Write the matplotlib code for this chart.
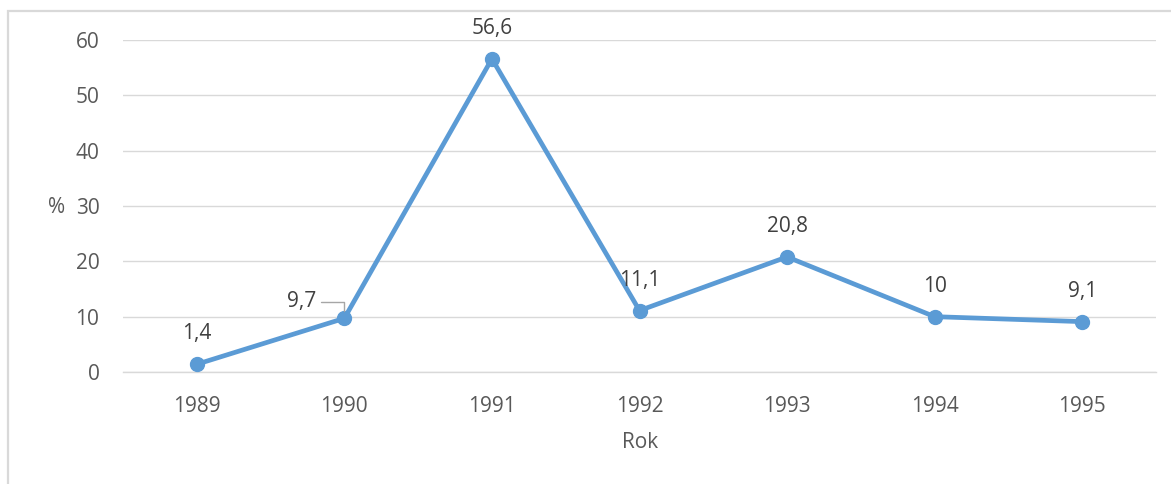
import matplotlib
matplotlib.use("Agg")
import matplotlib.pyplot as plt
from matplotlib.patches import Rectangle

# data
years = ["1989", "1990", "1991", "1992", "1993", "1994", "1995"]
values = [1.4, 9.7, 56.6, 11.1, 20.8, 10, 9.1]
labels = ["1,4", "9,7", "56,6", "11,1", "20,8", "10", "9,1"]
yticks = [0, 10, 20, 30, 40, 50, 60]

W, H = 1171, 484
grey = "#595959"
blue = "#5B9BD5"
plt.rcParams['font.family'] = ['Open Sans', 'DejaVu Sans']

fig = plt.figure(figsize=(W / 100, H / 100), dpi=100)
ax = fig.add_axes([123 / W, 1 - 372 / H, 1033 / W, 332 / H])

x = list(range(len(years)))
ax.plot(x, values, color=blue, lw=3.4, marker='o', ms=10, zorder=3)

ax.set_xlim(-0.5, len(years) - 0.5)
ax.set_ylim(0, 60)
ax.set_yticks(yticks)
ax.set_xticks(x)
ax.set_xticklabels(years)
ax.grid(axis='y', color='#D9D9D9', lw=1)
ax.axhline(0, color='#D9D9D9', lw=1, clip_on=False, zorder=1)
ax.set_axisbelow(True)
for s in ax.spines.values():
    s.set_visible(False)
ax.tick_params(length=0, labelsize=15, labelcolor=grey)
ax.tick_params(axis='y', pad=17)
ax.tick_params(axis='x', pad=17)

ax.set_ylabel('%', rotation=0, fontsize=15, color=grey, va='center', ha='center')
ax.yaxis.set_label_coords(-0.064, 0.494)
ax.set_xlabel('Rok', fontsize=15, color=grey, va='center')
ax.xaxis.set_label_coords(0.5005, -0.211)

# data labels, 9,7 is moved left with a leader line
for i, (v, t) in enumerate(zip(values, labels)):
    if t == "9,7":
        ax.annotate(t, (i, v), xytext=(-31, 12), textcoords='offset points',
                    ha='center', va='center', fontsize=15, color='#404040',
                    arrowprops=dict(arrowstyle='-', color='#A6A6A6', lw=1,
                                    connectionstyle='angle,angleA=0,angleB=90,rad=0',
                                    shrinkA=2, shrinkB=5))
    else:
        ax.annotate(t, (i, v), xytext=(0, 22), textcoords='offset points',
                    ha='center', va='center', fontsize=15, color='#404040')

# chart frame, only left and top edges fall inside the picture
fig.patches.append(Rectangle((8 / W, -0.1), 1.0, 1.1 - 11 / H, transform=fig.transFigure,
                             fill=False, edgecolor='#D9D9D9', lw=1.6))

fig.savefig("out.png", dpi=100)
